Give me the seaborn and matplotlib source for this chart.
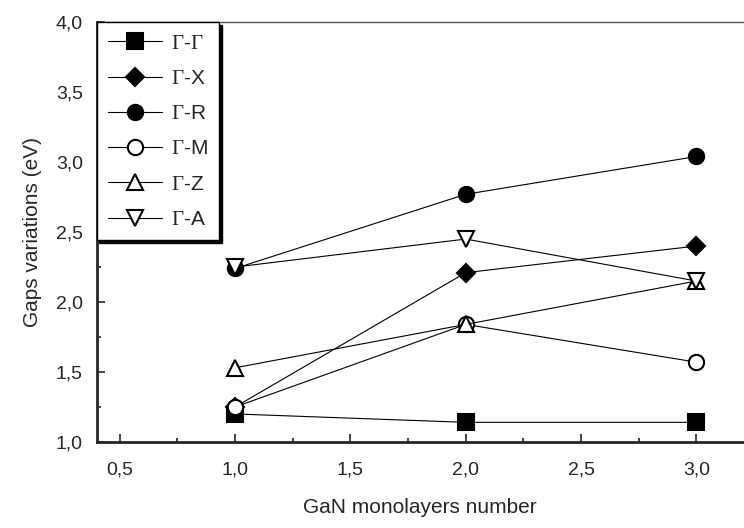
import numpy as np
import pandas as pd
import matplotlib
matplotlib.use("Agg")
import matplotlib.pyplot as plt
import matplotlib.ticker as mticker
import seaborn as sns

# data
layers = [1, 2, 3]
labels = ["Γ-Γ", "Γ-X", "Γ-R", "Γ-M", "Γ-Z", "Γ-A"]
gap_gg = [1.20, 1.14, 1.14]
gap_gx = [1.25, 2.21, 2.40]
gap_gr = [2.24, 2.77, 3.04]
gap_gm = [1.25, 1.84, 1.57]
gap_gz = [1.53, 1.84, 2.15]
gap_ga = [2.25, 2.45, 2.15]

series = [gap_gg, gap_gx, gap_gr, gap_gm, gap_gz, gap_ga]
markers = ["s", "D", "o", "o", "^", "v"]
faces = ["black", "black", "black", "white", "white", "white"]

sns.set_style("ticks")
plt.rcParams['font.family'] = ['Liberation Sans', 'DejaVu Sans']
plt.rcParams['mathtext.fontset'] = 'custom'
plt.rcParams['mathtext.rm'] = 'Liberation Serif'

fig = plt.figure(figsize=(7.44, 5.28), dpi=100)
ax = fig.add_axes([0.130, 0.163, 0.868, 0.795])

for lab, vals, m, fc in zip(labels, series, markers, faces):
    df = pd.DataFrame({"x": layers, "y": vals})
    sns.lineplot(data=df, x="x", y="y", ax=ax, color="black", linewidth=0.8,
                 marker=m, markersize=11 if m != "D" else 9.5,
                 markerfacecolor=fc, markeredgecolor="black", markeredgewidth=1.5,
                 label=lab.replace("Γ", r"$\mathrm{\Gamma}$"))

ax.set_xlim(0.4, 3.2)
ax.set_ylim(1.0, 4.0)
ax.xaxis.set_major_locator(mticker.MultipleLocator(0.5))
ax.xaxis.set_minor_locator(mticker.MultipleLocator(0.25))
ax.yaxis.set_major_locator(mticker.MultipleLocator(0.5))
ax.yaxis.set_minor_locator(mticker.MultipleLocator(0.25))
fmt = mticker.FuncFormatter(lambda v, p: f"{v:.1f}".replace(".", ","))
ax.xaxis.set_major_formatter(fmt)
ax.yaxis.set_major_formatter(fmt)
ax.tick_params(which="both", direction="in", labelsize=14, width=1.2)
ax.tick_params(axis="x", which="major", length=6, pad=14)
ax.tick_params(axis="y", which="major", length=6, pad=10)
ax.tick_params(which="minor", length=3)

for s in ["left", "bottom"]:
    ax.spines[s].set_linewidth(2)
ax.spines["top"].set_linewidth(1)
ax.spines["top"].set_color("#555555")
ax.spines["right"].set_visible(False)

ax.set_xlabel("GaN monolayers number", fontsize=15, labelpad=14)
ax.set_ylabel("Gaps variations (eV)", fontsize=15, labelpad=10)

leg = ax.legend(loc="upper left", bbox_to_anchor=(0.0, 1.0), fontsize=15,
                frameon=True, fancybox=False, borderaxespad=0.0,
                handlelength=2.6, handletextpad=0.4, labelspacing=0.78,
                borderpad=0.55,
                shadow={"facecolor": "black", "edgecolor": "black", "alpha": 1})
leg.get_frame().set_edgecolor("black")
leg.get_frame().set_linewidth(1.0)

fig.savefig("out.png", dpi=100)
